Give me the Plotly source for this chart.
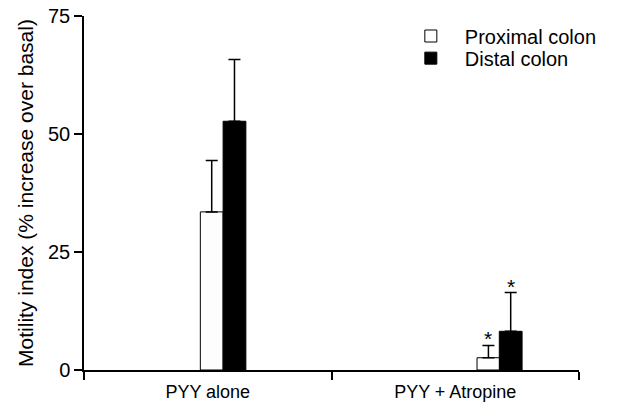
import plotly.graph_objects as go

categories = ["PYY alone", "PYY + Atropine"]
proximal = [33.5, 2.6]
proximal_err = [10.9, 2.6]
distal = [52.7, 8.2]
distal_err = [13.1, 8.2]
sig_proximal = ["", "*"]
sig_distal = ["", "*"]
y_ticks = [0, 25, 50, 75]

FONT = "Liberation Sans, Arial, sans-serif"
bar_w = 0.092
prox_offset = [-0.030, 0.088]
dist_offset = [0.062, 0.178]

fig = go.Figure()
fig.add_trace(go.Bar(
    name="Proximal colon", x=categories, y=proximal,
    width=bar_w, offset=prox_offset, legend="legend",
    marker=dict(color="#fdfdfd", line=dict(color="black", width=1)),
    error_y=dict(type="data", array=proximal_err, arrayminus=[0, 0],
                 color="black", thickness=1.5, width=6),
))
fig.add_trace(go.Bar(
    name="Distal colon", x=categories, y=distal,
    width=bar_w, offset=dist_offset, legend="legend2",
    marker=dict(color="black", line=dict(color="black", width=1)),
    error_y=dict(type="data", array=distal_err, arrayminus=[0, 0],
                 color="black", thickness=1.5, width=6),
))

cat_idx = {c: i for i, c in enumerate(categories)}
for vals, errs, sig, offs in [(proximal, proximal_err, sig_proximal, prox_offset),
                              (distal, distal_err, sig_distal, dist_offset)]:
    for i, c in enumerate(categories):
        if sig[i]:
            fig.add_annotation(
                x=cat_idx[c] + offs[i] + bar_w / 2, y=vals[i] + errs[i],
                xref="x", yref="y", text=sig[i], showarrow=False,
                yanchor="bottom", yshift=-7,
                font=dict(family=FONT, size=21, color="black"),
            )

leg_common = dict(xanchor="left", yanchor="middle", itemwidth=58,
                  font=dict(family=FONT, size=20, color="black"),
                  bgcolor="rgba(0,0,0,0)")
fig.update_layout(
    width=643, height=405,
    margin=dict(l=84, r=64, t=16, b=35),
    plot_bgcolor="white", paper_bgcolor="white",
    barmode="overlay",
    showlegend=True,
    legend=dict(x=0.632, y=0.9435, **leg_common),
    legend2=dict(x=0.632, y=0.881, **leg_common),
    font=dict(family=FONT, size=18, color="black"),
)
fig.update_xaxes(
    type="category", range=[-0.5, 1.5], automargin=False,
    showline=True, linecolor="black", linewidth=1.5,
    ticks="outside", tickson="boundaries", ticklen=8, tickwidth=1.5, tickcolor="black",
    showgrid=False, zeroline=False, ticklabelstandoff=5,
    tickfont=dict(family=FONT, size=18, color="black"),
)
fig.update_yaxes(
    range=[0, 75], tickvals=y_ticks, automargin=False,
    showline=True, linecolor="black", linewidth=1.5,
    ticks="outside", ticklen=8, tickwidth=1.5, tickcolor="black",
    showgrid=False, zeroline=False,
    tickfont=dict(family=FONT, size=20, color="black"),
    title=dict(text="Motility index (% increase over basal)",
               font=dict(family=FONT, size=21, color="black"), standoff=9),
)

fig.write_html("out.html")
